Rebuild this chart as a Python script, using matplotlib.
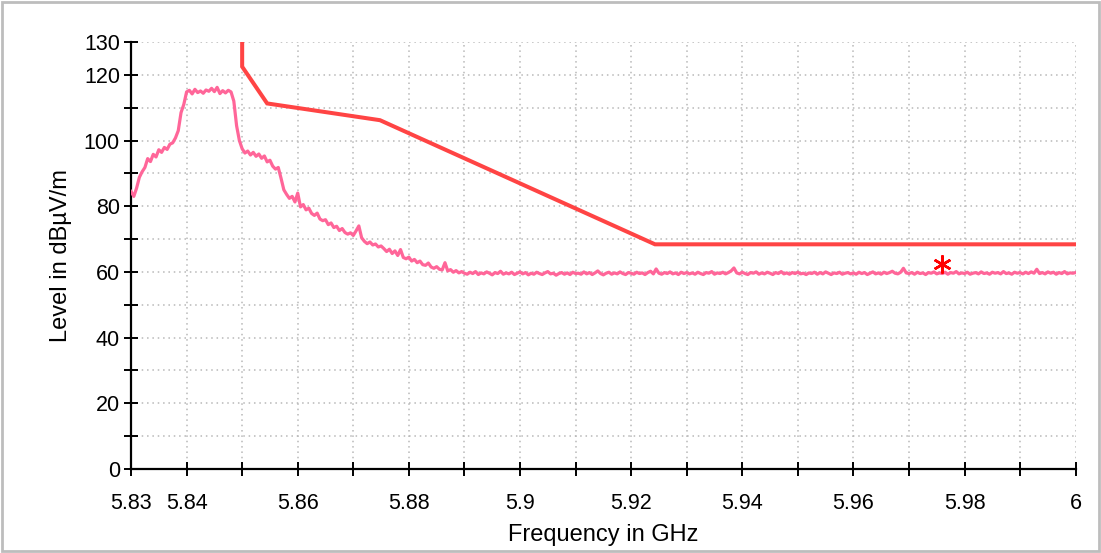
import numpy as np
import matplotlib
matplotlib.use('Agg')
import matplotlib.pyplot as plt
from matplotlib.patches import Rectangle

plt.rcParams['font.family'] = ['Liberation Sans', 'DejaVu Sans']

# measured trace, one point every 0.5 MHz from 5.83 GHz
f_start = 5.83
f_step = 0.0005
level = [
	84.5, 83.0, 85.5, 88.8, 90.5, 91.8, 94.5, 93.6, 95.8, 95.0,
	97.2, 96.4, 97.9, 97.3, 98.9, 99.3, 100.8, 103.0, 108.5, 111.0,
	114.8, 115.3, 114.2, 115.6, 114.6, 115.1, 114.4, 115.4, 115.0, 115.9,
	114.9, 116.2, 114.3, 115.2, 114.5, 115.3, 114.8, 112.0, 104.5, 100.0,
	97.5, 96.2, 96.8, 95.6, 96.4, 95.2, 95.9, 94.6, 95.3, 93.5,
	94.0, 92.2, 91.3, 91.8, 88.5, 85.0, 83.6, 82.4, 83.0, 81.3,
	84.0, 79.8, 80.5, 78.9, 79.4, 77.8, 77.2, 77.9, 76.1, 75.6,
	75.9, 74.4, 74.9, 73.5, 73.9, 72.6, 73.2, 72.0, 71.5, 71.9,
	71.1, 72.5, 74.0, 70.4, 69.3, 68.6, 69.1, 68.2, 68.5, 67.6,
	67.9, 67.1, 66.2, 66.9, 65.6, 66.4, 65.0, 66.8, 64.4, 64.0,
	64.5, 63.3, 63.8, 62.8, 63.3, 62.2, 62.0, 62.7, 61.5, 61.1,
	61.6, 60.8, 60.6, 62.8, 60.3, 60.7, 59.9, 60.4, 59.7, 60.1,
	59.6,
	59.3, 59.9, 59.5, 60.1, 59.2, 59.7, 59.4, 60.0, 59.6, 59.1, 59.8, 59.5, 60.2, 59.3, 59.7, 59.4, 59.9, 59.2, 59.6, 60.0,
	59.4, 59.8, 59.1, 59.6, 59.3, 59.9, 59.5, 59.2, 59.7, 60.1, 59.4, 59.6, 59.0, 59.5, 59.8, 59.3, 59.7, 59.2, 59.9, 59.5,
	59.6, 59.3, 60.0, 59.4, 59.8, 59.2, 59.7, 60.3, 59.5, 59.1, 59.6, 59.9, 59.3, 59.7, 59.4, 60.0, 59.5, 59.2, 59.8, 59.6,
	59.3, 59.9, 59.5, 59.7, 59.2, 59.8, 60.2, 59.4, 60.9, 59.6, 59.3, 59.8, 59.5, 60.0, 59.4, 59.7, 59.2, 59.9, 59.5, 59.8,
	59.4, 59.7, 59.3, 59.9, 59.5, 59.2, 59.8, 59.6, 60.1, 59.3, 59.7, 59.5, 59.9, 59.4, 59.8, 60.3, 61.2, 59.7, 59.4, 59.9,
	59.5, 59.2, 59.8, 59.6, 60.0, 59.3, 59.7, 59.4, 59.9, 59.6, 59.2, 59.8, 59.5, 60.1, 59.4, 59.7, 59.3, 59.8, 59.5, 59.9,
	59.4, 59.6, 59.2, 59.7, 59.5, 59.9, 59.3, 59.8, 59.4, 60.0, 59.6, 59.2, 59.7, 59.5, 59.9, 59.3, 59.6, 59.8, 59.4, 59.7,
	59.3, 59.9, 59.5, 59.8, 59.2, 59.6, 60.0, 59.4, 59.7, 59.3, 59.9, 59.5, 59.8, 60.2, 59.6, 59.4, 59.9, 61.1, 59.7, 59.5,
	59.8, 59.3, 59.9, 59.5, 59.7, 59.2, 59.8, 59.6, 60.0, 59.4, 59.7, 59.5, 59.9, 59.3, 59.8, 59.6, 60.1, 59.4, 59.7, 59.5,
	59.9, 59.3, 59.6, 59.8, 59.4, 60.0, 59.5, 59.7, 59.3, 59.9, 59.6, 59.8, 59.4, 60.1, 59.5, 59.7, 59.3, 59.9, 59.6, 59.8,
	59.4, 59.9, 59.5, 60.0, 59.6, 60.8, 59.5, 59.8, 59.4, 60.0, 59.6, 59.9, 59.3, 59.8, 59.5, 60.1, 59.4, 59.7, 59.6, 59.8,
]

# limit line
limit_f = [5.85, 5.85, 5.8545, 5.8748, 5.9243, 6.0]
limit_db = [130, 122.5, 111.3, 106.2, 68.4, 68.4]

# marker
peak_f = [5.9759]
peak_db = [62.4]

xtick_vals = [5.83, 5.84, 5.85, 5.86, 5.87, 5.88, 5.89, 5.90, 5.91, 5.92,
	5.93, 5.94, 5.95, 5.96, 5.97, 5.98, 5.99, 6.00]
xtick_labels = ['5.83', '5.84', '', '5.86', '', '5.88', '', '5.9', '', '5.92',
	'', '5.94', '', '5.96', '', '5.98', '', '6']
ytick_vals = [0, 10, 20, 30, 40, 50, 60, 70, 80, 90, 100, 110, 120, 130]
ytick_labels = ['0', '', '20', '', '40', '', '60', '', '80', '', '100', '', '120', '130']

freq = f_start + f_step * np.arange(len(level))

fig = plt.figure(figsize=(11.01, 5.53), dpi=100)
ax = fig.add_axes([0.119, 0.152, 0.858, 0.772])

ax.plot(freq, level, color='#ff6699', lw=2.3, zorder=3)
ax.plot(limit_f, limit_db, color='#ff4444', lw=2.9, zorder=4, solid_joinstyle='miter')
ax.plot(peak_f, peak_db, linestyle='none', marker=(6, 2, 0), markersize=13,
	markeredgewidth=1.8, color='#ff0000', zorder=5)

ax.set_xlim(5.83, 6.0)
ax.set_ylim(0, 130)
ax.tick_params(axis='both', direction='inout', length=10, width=1.4)
ax.tick_params(axis='x', pad=12)
ax.tick_params(axis='y', pad=3)
ax.set_xticks(xtick_vals)
ax.set_xticklabels(xtick_labels, fontsize=15.5)
ax.set_yticks(ytick_vals)
ax.set_yticklabels(ytick_labels, fontsize=15.5)

ax.grid(True, color='#b8b8b8', linestyle=(0, (1, 2.5)), lw=1.1)
ax.spines['top'].set_visible(False)
ax.spines['right'].set_visible(False)
ax.spines['left'].set_linewidth(1.6)
ax.spines['bottom'].set_linewidth(1.6)

ax.set_xlabel('Frequency in GHz', fontsize=17)
ax.xaxis.set_label_coords(0.5, -0.128)
ax.set_ylabel('Level in dBµV/m', fontsize=17, labelpad=8.5)

fig.patches.append(Rectangle((0.002, 0.004), 0.996, 0.992, transform=fig.transFigure,
	fill=False, edgecolor='#bdbdbd', lw=2))

fig.savefig('out.png', dpi=100)
